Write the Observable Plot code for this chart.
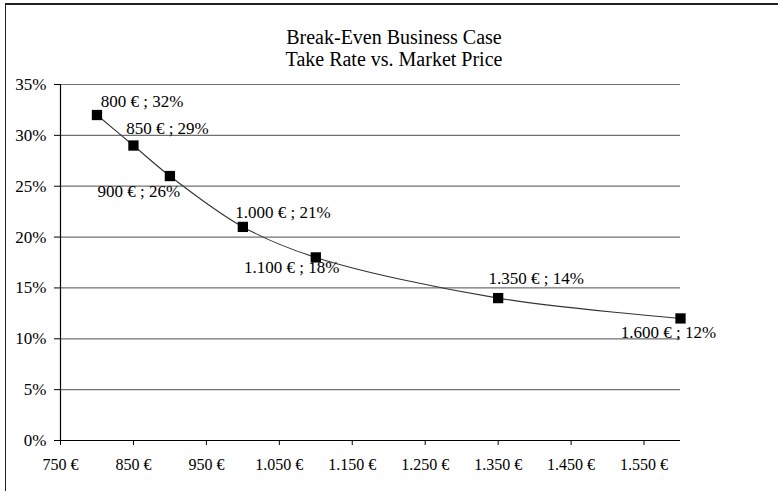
<!DOCTYPE html>
<html>
<head>
<meta charset="utf-8">
<script src="https://cdn.jsdelivr.net/npm/d3@7"></script>
<script src="https://cdn.jsdelivr.net/npm/@observablehq/plot@0.6"></script>
<style>
  html, body { margin: 0; padding: 0; background: #fff; }
  #wrap { position: relative; width: 778px; height: 494px; overflow: hidden; font-family: "Liberation Serif", "Times New Roman", serif; }
  #frame { position: absolute; left: 5px; top: 3px; width: 780px; height: 488px; border-top: 2px solid #222; border-left: 1.5px solid #222; box-sizing: border-box; pointer-events: none; }
  #title { position: absolute; left: 0; width: 788px; top: 26px; text-align: center; font-size: 20px; line-height: 22px; color: #000; }
  #chart { position: absolute; left: 0; top: 0; }
</style>
</head>
<body>
<div id="wrap">
  <div id="chart"></div>
  <div id="title">Break-Even Business Case<br>Take Rate vs. Market Price</div>
  <div id="frame"></div>
</div>
<script>
const prices = [800, 850, 900, 1000, 1100, 1350, 1600];
const takeRates = [32, 29, 26, 21, 18, 14, 12];
const pointLabels = ["800 € ; 32%", "850 € ; 29%", "900 € ; 26%", "1.000 € ; 21%", "1.100 € ; 18%", "1.350 € ; 14%", "1.600 € ; 12%"];
const xTicks = [750, 850, 950, 1050, 1150, 1250, 1350, 1450, 1550];
const xTickLabels = ["750 €", "850 €", "950 €", "1.050 €", "1.150 €", "1.250 €", "1.350 €", "1.450 €", "1.550 €"];
const yTicks = [0, 5, 10, 15, 20, 25, 30, 35];
const yTickLabels = ["0%", "5%", "10%", "15%", "20%", "25%", "30%", "35%"];

const data = prices.map((p, i) => ({price: p, rate: takeRates[i], label: pointLabels[i]}));

// label placement per point (Excel-like), offsets in px relative to marker
const placements = [
  {dx: 45, dy: -13}, {dx: 34, dy: -17}, {dx: -31, dy: 16}, {dx: 40, dy: -14},
  {dx: -24, dy: 10}, {dx: 38, dy: -20}, {dx: -12, dy: 14}
];
const labelMarks = data.map((d, i) => Plot.text([d], {
  x: "price", y: "rate", text: "label",
  dx: placements[i].dx, dy: placements[i].dy,
  fontSize: 17, fill: "#000", textAnchor: "middle"
}));

const chart = Plot.plot({
  width: 778,
  height: 494,
  marginLeft: 60,
  marginRight: 98,
  marginTop: 84,
  marginBottom: 54,
  style: {fontFamily: "'Liberation Serif', 'Times New Roman', serif", fontSize: "16px", color: "#000", background: "transparent"},
  x: {domain: [750, 1600], label: null},
  y: {domain: [0, 35], label: null},
  marks: [
    Plot.ruleY(yTicks.filter(t => t > 0), {stroke: "#707070", strokeWidth: 1.2}),
    Plot.ruleY([0], {stroke: "#000", strokeWidth: 1.2}),
    Plot.ruleX([750], {stroke: "#000", strokeWidth: 1.2}),
    Plot.axisX({ticks: xTicks, tickFormat: d => xTickLabels[xTicks.indexOf(d)], tickSize: 5, tickPadding: 13, fontSize: 16, stroke: "#000", label: null}),
    Plot.axisY({ticks: yTicks, tickFormat: d => yTickLabels[yTicks.indexOf(d)], tickSize: 6, tickPadding: 8, fontSize: 17, stroke: "#000", label: null}),
    Plot.line(data, {x: "price", y: "rate", stroke: "#333", strokeWidth: 1.1, curve: "catmull-rom"}),
    Plot.dot(data, {x: "price", y: "rate", symbol: "square", r: 5.8, fill: "#000", stroke: "none"}),
    ...labelMarks
  ]
});
document.getElementById("chart").appendChild(chart);
</script>
</body>
</html>
